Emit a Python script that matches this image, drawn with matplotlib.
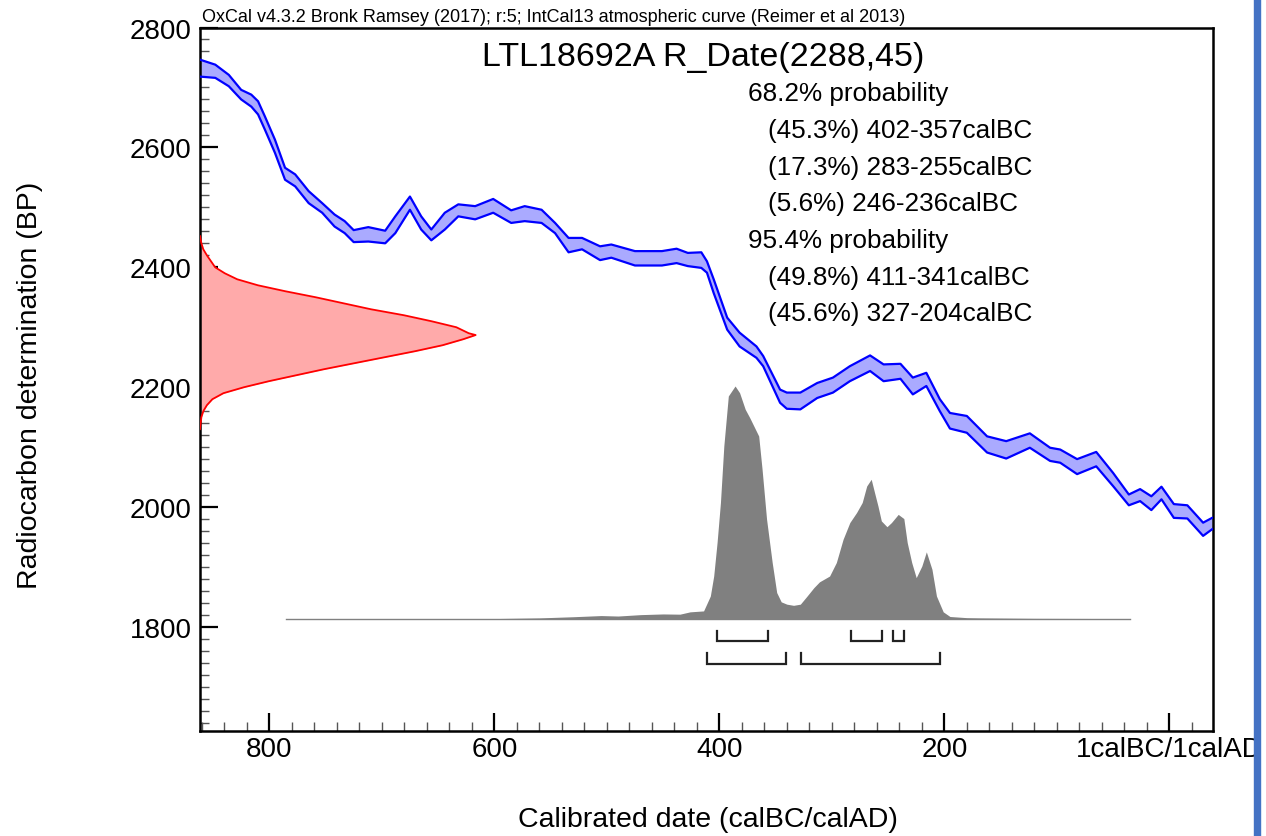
import matplotlib
matplotlib.use("Agg")
import matplotlib.pyplot as plt
from matplotlib.patches import Rectangle
from matplotlib.ticker import MultipleLocator, FixedLocator, FixedFormatter

plt.rcParams["font.family"] = ["Liberation Sans", "DejaVu Sans"]

# ── data ─────────────────────────────────────────────────────────────
# calibration curve (IntCal13), years calBC, band edges in BP
cal_year = [861, 848, 836, 825, 816, 810, 804, 795, 786, 777, 765, 753, 742,
            733, 725, 712, 697, 688, 675, 665, 656, 644, 632, 617, 601, 585,
            573, 558, 546, 534, 522, 506, 496, 475, 451, 438, 428, 416, 411,
            405, 393, 382, 367, 361, 346, 340, 328, 313, 299, 284, 266, 254,
            239, 228, 216, 204, 195, 180, 162, 145, 124, 106, 97, 82, 65, 50,
            36, 26, 16, 7, -4, -16, -30, -38]
cal_upper = [2746, 2738, 2721, 2696, 2688, 2677, 2652, 2613, 2566, 2555, 2527,
             2507, 2488, 2477, 2462, 2467, 2461, 2485, 2518, 2485, 2463, 2491,
             2505, 2502, 2514, 2495, 2502, 2496, 2474, 2449, 2449, 2435, 2438,
             2427, 2427, 2431, 2424, 2425, 2410, 2380, 2316, 2291, 2268, 2252,
             2196, 2191, 2191, 2207, 2216, 2235, 2253, 2238, 2239, 2216, 2224,
             2180, 2157, 2152, 2118, 2110, 2123, 2099, 2096, 2080, 2092, 2057,
             2021, 2030, 2018, 2034, 2005, 2003, 1974, 1982]
cal_lower = [2718, 2716, 2702, 2680, 2668, 2655, 2630, 2591, 2546, 2535, 2507,
             2491, 2468, 2457, 2442, 2443, 2440, 2457, 2496, 2463, 2445, 2463,
             2485, 2480, 2491, 2474, 2477, 2474, 2457, 2425, 2430, 2412, 2416,
             2403, 2403, 2407, 2402, 2399, 2391, 2357, 2296, 2268, 2249, 2235,
             2174, 2164, 2163, 2182, 2191, 2210, 2227, 2210, 2214, 2188, 2202,
             2160, 2131, 2124, 2091, 2081, 2099, 2077, 2074, 2055, 2068, 2035,
             2003, 2010, 1995, 2013, 1982, 1981, 1952, 1963]

# radiocarbon date R_Date(2288,45), relative probability
rd_bp = [2452, 2440, 2430, 2420, 2410, 2400, 2390, 2380, 2370, 2360, 2350,
         2340, 2330, 2320, 2310, 2300, 2290, 2287, 2280, 2270, 2260, 2250,
         2240, 2230, 2220, 2210, 2200, 2190, 2180, 2170, 2160, 2150, 2130]
rd_prob = [0.0, 0.005, 0.012, 0.025, 0.04, 0.055, 0.09, 0.135, 0.21, 0.31,
           0.42, 0.52, 0.62, 0.74, 0.84, 0.93, 0.975, 1.0, 0.955, 0.88, 0.78,
           0.67, 0.56, 0.45, 0.35, 0.25, 0.16, 0.085, 0.045, 0.025, 0.012,
           0.005, 0.0]

# calibrated probability, years calBC
post_year = [785, 600, 560, 530, 505, 490, 470, 450, 435, 426, 414, 408, 405,
             402, 399, 396, 392, 386, 382, 377, 373, 365, 362, 358, 353, 349,
             345, 340, 334, 328, 322, 316, 311, 302, 296, 290, 284, 278, 273,
             269, 265, 262, 259, 256, 251, 247, 241, 236, 233, 229, 225, 220,
             216, 211, 207, 201, 195, 180, 168, 120, 35]
post_prob = [0.0, 0.0, 0.003, 0.008, 0.013, 0.011, 0.017, 0.02, 0.019, 0.029,
             0.033, 0.097, 0.183, 0.327, 0.499, 0.742, 0.957, 1.0, 0.971, 0.90,
             0.864, 0.785, 0.642, 0.427, 0.241, 0.112, 0.072, 0.062, 0.057,
             0.062, 0.097, 0.133, 0.158, 0.183, 0.241, 0.341, 0.413, 0.456,
             0.499, 0.57, 0.599, 0.541, 0.484, 0.42, 0.395, 0.413, 0.448, 0.43,
             0.327, 0.241, 0.176, 0.226, 0.287, 0.212, 0.097, 0.029, 0.009,
             0.004, 0.003, 0.001, 0.0]

# highest probability ranges (from, to) calBC
ranges_68 = [(402, 357), (283, 255), (246, 236)]
ranges_95 = [(411, 341), (327, 204)]

header = ("OxCal v4.3.2 Bronk Ramsey (2017); r:5; "
          "IntCal13 atmospheric curve (Reimer et al 2013)")
title = "LTL18692A R_Date(2288,45)"
prob_lines = [
    ("68.2% probability", 0),
    ("(45.3%) 402-357calBC", 1),
    ("(17.3%) 283-255calBC", 1),
    ("(5.6%) 246-236calBC", 1),
    ("95.4% probability", 0),
    ("(49.8%) 411-341calBC", 1),
    ("(45.6%) 327-204calBC", 1),
]

# ── figure ───────────────────────────────────────────────────────────
W, H = 1266, 837
fig = plt.figure(figsize=(W / 100, H / 100), dpi=100)
ax = fig.add_axes([200 / W, 1 - 731.7 / H, 1013 / W, (731.7 - 28.5) / H])

XL = (861.6, -38.8)
ax.set_xlim(*XL)
ax.set_ylim(1627, 2800)

# calibration curve
ax.fill_between(cal_year, cal_lower, cal_upper, color="#aaaaff", lw=0, zorder=2)
ax.plot(cal_year, cal_upper, color="#0000ff", lw=1.6, zorder=3)
ax.plot(cal_year, cal_lower, color="#0000ff", lw=1.6, zorder=3)

# radiocarbon date on the y axis
RD_SCALE = 245
rd_x = [XL[0] - p * RD_SCALE for p in rd_prob]
ax.fill_betweenx(rd_bp, XL[0], rd_x, color="#ffaaaa", lw=0, zorder=2)
ax.plot(rd_x, rd_bp, color="#ff0000", lw=1.3, zorder=3)

# calibrated distribution
BASE, PSCALE = 1814, 388
post_y = [BASE + p * PSCALE for p in post_prob]
ax.fill_between(post_year, BASE, post_y, color="#808080", lw=0, zorder=2)
ax.plot([post_year[0], post_year[-1]], [BASE, BASE], color="#808080",
        lw=1.0, zorder=2)

# range brackets
for rngs, yb, yt in [(ranges_68, 1777, 1793), (ranges_95, 1739, 1756)]:
    for a, b in rngs:
        ax.plot([a, a, b, b], [yt, yb, yb, yt], color="#222222", lw=1.6,
                solid_joinstyle="miter", zorder=3)

# axes styling
for s in ax.spines.values():
    s.set_linewidth(1.8)
ax.xaxis.set_major_locator(FixedLocator([800, 600, 400, 200, 0]))
ax.xaxis.set_major_formatter(
    FixedFormatter(["800", "600", "400", "200", "1calBC/1calAD"]))
ax.xaxis.set_minor_locator(MultipleLocator(20))
ax.yaxis.set_major_locator(MultipleLocator(200))
ax.yaxis.set_minor_locator(MultipleLocator(20))
ax.tick_params(which="both", direction="in", top=False, right=False,
               labelsize=20, pad=4)
ax.tick_params(which="major", length=13, width=1.6)
ax.tick_params(which="minor", length=6.5, width=1.0, color="#555555")
ax.tick_params(axis="y", which="major", pad=6)

# texts
fig.text(202 / W, 1 - 22 / H, header, fontsize=13, ha="left",
         va="baseline")
ax.text(0.2784, 0.9463, title, transform=ax.transAxes, fontsize=24.5,
        ha="left", va="baseline")
for i, (txt, indent) in enumerate(prob_lines):
    ax.text(0.5413 + 0.0197 * indent, 0.8968 - 0.05223 * i, txt,
            transform=ax.transAxes, fontsize=18.8, ha="left", va="baseline")

fig.text(30 / W, 1 - 385 / H, "Radiocarbon determination (BP)", fontsize=20.5,
         rotation=90, ha="center", va="center")
fig.text(708 / W, 1 - 820 / H, "Calibrated date (calBC/calAD)", fontsize=20.5,
         ha="center", va="center")

# screenshot edge on the right
fig.add_artist(Rectangle((1260 / W, 0), 6 / W, 1, transform=fig.transFigure,
                         color="white", zorder=20))
fig.add_artist(Rectangle((1254 / W, 0), 6 / W, 1, transform=fig.transFigure,
                         color="#4472c4", zorder=21))

fig.savefig("out.png", dpi=100)
